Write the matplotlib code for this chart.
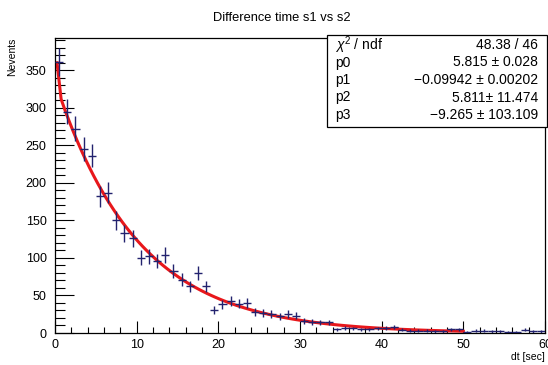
"""Difference time s1 vs s2: histogram with error bars and exponential fit."""

import matplotlib

matplotlib.use("Agg")
import matplotlib.pyplot as plt
import numpy as np
from matplotlib.patches import Rectangle
from matplotlib.ticker import MultipleLocator

plt.rcParams["font.family"] = ["Liberation Sans", "DejaVu Sans"]
plt.rcParams["mathtext.fontset"] = "custom"
plt.rcParams["mathtext.rm"] = "Liberation Sans"
plt.rcParams["mathtext.it"] = "Liberation Sans:italic"

# histogram: 60 bins of 1 s from 0 to 60
bin_edges = list(range(0, 61))
counts = [
    361, 295, 272, 245, 236, 182, 187, 150, 133, 126,
    100, 102, 96, 104, 83, 71, 62, 80, 62, 31,
    38, 43, 39, 40, 28, 27, 25, 22, 25, 23,
    16, 15, 14, 14, 5, 7, 6, 5, 5, 6,
    7, 8, 4, 3, 3, 3, 2, 2, 5, 5,
    1, 3, 3, 2, 2, 1, 1, 4, 2, 2,
]

# fit results shown in the stats box
fit_names = ["p0", "p1", "p2", "p3"]
fit_values = [5.815, -0.09942, 5.811, -9.265]
fit_value_txt = ["5.815 ", "\u22120.09942 ", "5.811", "\u22129.265 "]
fit_error_txt = ["0.028", "0.00202", "11.474", "103.109"]
chi2_txt = "48.38 / 46"
fit_range = (0.25, 50)

edges = np.array(bin_edges, dtype=float)
centers = 0.5 * (edges[:-1] + edges[1:])
n = np.array(counts, dtype=float)

fig = plt.figure(figsize=(5.48, 3.65), dpi=100)
ax = fig.add_axes([55 / 548, 32 / 365, 490 / 548, 295 / 365])

ax.errorbar(
    centers, n, xerr=0.5, yerr=np.sqrt(n), fmt="none",
    ecolor="#22226e", elinewidth=1.0, capsize=0, zorder=3,
)

# fit curve: exp(p0 + p1*x) + exp(p2 + p3*x)
p0, p1, p2, p3 = fit_values
xf = np.linspace(fit_range[0], fit_range[1], 101)
yf = np.exp(p0 + p1 * xf) + np.exp(p2 + p3 * xf)
ax.plot(xf, yf, color="#e8171b", lw=2.2, zorder=2, solid_joinstyle="round")

ax.set_xlim(0, 60)
ax.set_ylim(0, 393)
ax.xaxis.set_major_locator(MultipleLocator(10))
ax.xaxis.set_minor_locator(MultipleLocator(2))
ax.yaxis.set_major_locator(MultipleLocator(50))
ax.yaxis.set_minor_locator(MultipleLocator(10))
ax.tick_params(which="both", direction="in", top=False, right=False,
               labelsize=9, width=0.8)
ax.tick_params(axis="y", which="major", length=14, pad=6)
ax.tick_params(axis="y", which="minor", length=7)
ax.tick_params(axis="x", which="major", length=9, pad=4)
ax.tick_params(axis="x", which="minor", length=4.5)
for s in ax.spines.values():
    s.set_linewidth(0.9)

ax.set_xlabel("dt [sec]", fontsize=7.5, loc="right", labelpad=1)
ax.set_ylabel("Nevents", fontsize=7.5, loc="top", labelpad=6)

fig.text(0.515, 0.95, "Difference time s1 vs s2", ha="center", va="center",
         fontsize=9.3)

# stats box
bx0, by0, bx1, by1 = 327, 35, 547, 127
fig.patches.append(Rectangle(
    (bx0 / 548, 1 - by1 / 365), (bx1 - bx0) / 548, (by1 - by0) / 365,
    transform=fig.transFigure, facecolor="white", edgecolor="black",
    lw=0.9, zorder=5,
))
rows = [(r"$\chi^{2}$ / ndf", chi2_txt)]
for name, v, e in zip(fit_names, fit_value_txt, fit_error_txt):
    rows.append((name, f"{v}\u00b1 {e}"))
for i, (lab, val) in enumerate(rows):
    yy = 1 - (45 + i * 17.5) / 365
    fig.text(335 / 548, yy, lab, ha="left", va="center", fontsize=10, zorder=6)
    fig.text(538 / 548, yy, val, ha="right", va="center", fontsize=10, zorder=6)

fig.savefig("out.png", dpi=100)
